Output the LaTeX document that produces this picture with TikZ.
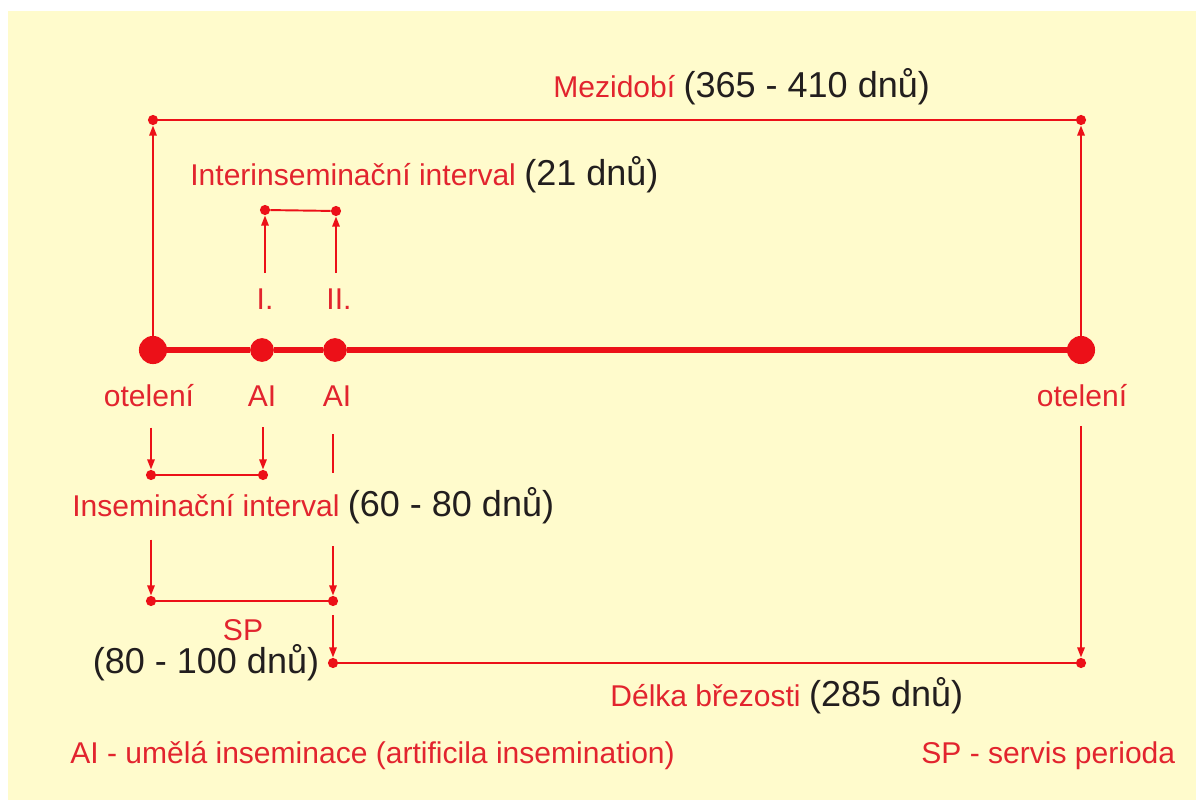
\documentclass[tikz,border=0pt]{standalone}
\usepackage{fontspec}
\setmainfont{Liberation Sans}
\usetikzlibrary{arrows.meta}

\definecolor{bgcream}{RGB}{255,251,204}
\definecolor{linered}{RGB}{236,16,24}
\definecolor{textred}{RGB}{226,36,46}
\definecolor{textdark}{RGB}{34,30,30}
\newcommand{\redsize}{\fontsize{17.1}{20}\selectfont}
\newcommand{\blksize}{\fontsize{20.5}{24}\selectfont}
\newcommand{\blk}[1]{\textcolor{textdark}{\blksize #1}}

\begin{document}
\begin{tikzpicture}[x=0.02cm,y=-0.02cm,
    bigdot/.style={circle,fill=linered,inner sep=0pt,minimum size=16pt},
    aidot/.style={circle,fill=linered,inner sep=0pt,minimum size=13.5pt},
    smalldot/.style={circle,fill=linered,inner sep=0pt,minimum size=5.8pt},
    lab/.style={text=textred,font=\redsize,inner sep=0pt},
    conn/.style={draw=linered,line width=1.1pt},
    arr/.style={conn,-{Triangle[length=5.8pt,width=4.2pt]}},
    axis/.style={draw=linered,line width=3.6pt}]
        %background
        \useasboundingbox (0,0) rectangle (1196,800);
        \fill[white] (0,0) rectangle (1196,800);
        \fill[bgcream] (8,11) rectangle (1196,800);

        %time axis
        \node[bigdot] (calv1) at (153,350) {};
        \node[aidot] (ai1) at (262,350) {};
        \node[aidot] (ai2) at (335,350) {};
        \node[bigdot] (calv2) at (1081,350) {};
        \draw[axis] (calv1) -- (ai1) -- (ai2) -- (calv2);
        \node[lab,anchor=base] (ot1) at (149,406) {otelení};
        \node[lab,anchor=base] (lai1) at (262,406) {AI};
        \node[lab,anchor=base] (lai2) at (337,406) {AI};
        \node[lab,anchor=base] (ot2) at (1082,406) {otelení};

        %calving interval
        \node[smalldot] (top1) at (153,120) {};
        \node[smalldot] (top2) at (1081,120) {};
        \draw[conn] (top1) -- (top2);
        \draw[arr] (calv1) -- (top1);
        \draw[arr] (calv2) -- (top2);
        \node[lab,anchor=base west] (mezi) at (553,98) {Mezidobí \blk{(365 - 410 dnů)}};

        %interinsemination interval
        \node[smalldot] (ii1) at (265,210) {};
        \node[smalldot] (ii2) at (336,211) {};
        \draw[conn] (ii1) -- (ii2);
        \node[lab,anchor=base] (n1) at (265,310) {I.};
        \node[lab,anchor=base] (n2) at (339,310) {II.};
        \draw[arr,shorten <=9pt] (n1.north -| ii1) -- (ii1);
        \draw[arr,shorten <=9pt] (n2.north -| ii2) -- (ii2);
        \node[lab,anchor=base west] (inter) at (190,186) {Interinseminační interval \blk{(21 dnů)}};

        %insemination interval
        \node[smalldot] (ins1) at (151,475) {};
        \node[smalldot] (ins2) at (263,475) {};
        \draw[conn] (ins1) -- (ins2);
        \draw[arr,shorten <=12pt] (ot1.south -| ins1) -- (ins1);
        \draw[arr,shorten <=12pt] (lai1.south -| ins2) -- (ins2);
        \node[lab,anchor=base west] (insl) at (72,516) {Inseminační interval \blk{(60 - 80 dnů)}};

        %service period
        \coordinate (cut1) at (333,473);
        \coordinate (cut2) at (333,546);
        \node[smalldot] (sp1) at (151,601) {};
        \node[smalldot] (sp2) at (333,601) {};
        \draw[conn] (sp1) -- (sp2);
        \draw[arr,shorten <=9pt] (insl.south -| sp1) -- (sp1);
        \draw[conn,shorten <=16pt] (lai2.south -| cut1) -- (cut1);
        \draw[arr] (cut2) -- (sp2);
        \node[lab,anchor=base,text depth=0pt] (spl) at (243,640) {SP};
        \node[anchor=base,font=\blksize,text=textdark,inner sep=0pt] (spd) at (206,673) {(80 - 100 dnů)};

        %gestation
        \node[smalldot] (g1) at (333,663) {};
        \node[smalldot] (g2) at (1081,663) {};
        \draw[conn] (g1) -- (g2);
        \draw[arr,shorten <=5pt] (sp2) -- (g1);
        \draw[arr,shorten <=11pt] (ot2.south -| g2) -- (g2);
        \node[lab,anchor=base west] (gest) at (610,706) {Délka březosti \blk{(285 dnů)}};

        %legend
        \node[lab,anchor=base west] (leg1) at (70,763) {AI - umělá inseminace (artificila insemination)};
        \node[lab,anchor=base west] (leg2) at (921,763) {SP - servis perioda};
    \end{tikzpicture}
\end{document}
